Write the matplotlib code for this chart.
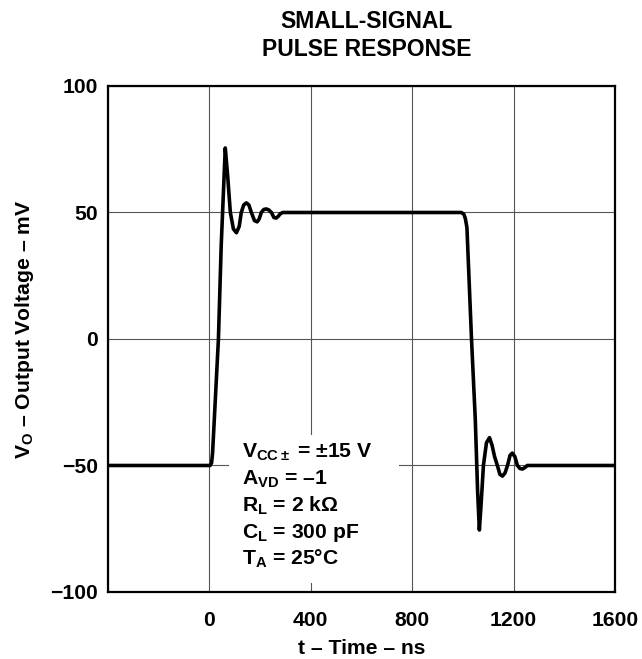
import matplotlib
matplotlib.use("Agg")
import matplotlib.pyplot as plt
from matplotlib.patches import Rectangle

plt.rcParams['font.family'] = ['Liberation Sans', 'DejaVu Sans']
plt.rcParams['font.weight'] = 'bold'
plt.rcParams['mathtext.fontset'] = 'custom'
plt.rcParams['mathtext.rm'] = 'Liberation Sans:bold'
plt.rcParams['mathtext.bf'] = 'Liberation Sans:bold'
plt.rcParams['mathtext.it'] = 'Liberation Sans:bold'

# waveform (t in ns, Vo in mV)
t_ns = [-400, 3, 9, 13, 36, 47, 63, 72, 83, 95, 107, 118, 126, 136, 146, 156, 166, 178,
        189, 197, 205, 215, 225, 235, 245, 255, 264, 272, 280, 290,
        994, 1004, 1010, 1016, 1034, 1049, 1058, 1065, 1072, 1081, 1093, 1105, 1115,
        1125, 1136, 1146, 1156, 1166, 1176, 1186, 1195, 1205, 1215, 1225, 1235, 1245,
        1254, 1600]
vo_mv = [-50, -50, -49, -45, 0, 37, 75.5, 65, 50, 43.5, 42, 44.5, 50, 53, 53.8, 53, 50, 46.8,
         46.3, 47.5, 50, 51.2, 51.4, 51, 50, 48, 47.8, 48.5, 49.5, 50,
         50, 49.3, 47.5, 44, 0, -32, -60, -75.5, -65, -50, -41, -39, -42,
         -46.5, -50, -53.5, -54.2, -53, -50, -46, -45.1, -46.5, -50, -51.2, -51.4, -50.8,
         -50, -50]

x_ticks = [-400, 0, 400, 800, 1200, 1600]
x_labels = ['', '0', '400', '800', '1200', '1600']
y_ticks = [-100, -50, 0, 50, 100]
y_labels = ['\u2212100', '\u221250', '0', '50', '100']

conditions = ['$\\mathbf{V_{CC\\pm}}$ = \u00b115 V',
              '$\\mathbf{A_{VD}}$ = \u20131',
              '$\\mathbf{R_{L}}$ = 2 k\u03a9',
              '$\\mathbf{C_{L}}$ = 300 pF',
              '$\\mathbf{T_{A}}$ = 25\u00b0C']

fs = 15.2

fig = plt.figure(figsize=(6.42, 6.59), dpi=100)
ax = fig.add_axes([0.168, 0.1017, 0.790, 0.7678])

ax.plot(t_ns, vo_mv, color='black', linewidth=2.6, solid_joinstyle='round',
        solid_capstyle='round', zorder=4)

ax.set_xlim(-400, 1600)
ax.set_ylim(-100, 100)
ax.set_xticks(x_ticks)
ax.set_xticklabels(x_labels)
ax.set_yticks(y_ticks)
ax.set_yticklabels(y_labels)
ax.tick_params(axis='x', length=0, pad=14, labelsize=fs)
ax.tick_params(axis='y', length=0, pad=7, labelsize=fs)
ax.grid(True, color='#555555', linewidth=0.8, zorder=1)
ax.set_axisbelow(True)
for s in ax.spines.values():
    s.set_linewidth(1.6)
    s.set_color('black')

# white box behind the test conditions
ax.add_patch(Rectangle((79, -96.5), 670, 58.5, facecolor='white', edgecolor='none', zorder=2))
for i, line in enumerate(conditions):
    ax.text(130, -47 - 10.6 * i, line, fontsize=fs, fontweight='bold',
            va='baseline', ha='left', zorder=5)

ax.set_xlabel('t \u2013 Time \u2013 ns', fontsize=fs, fontweight='bold', labelpad=6)
ax.set_ylabel('$\\mathbf{V_O}$ \u2013 Output Voltage \u2013 mV', fontsize=fs,
              fontweight='bold')
ax.yaxis.set_label_coords(-0.142, 0.52)

fig.text(367 / 642, 1 - 21 / 659, 'SMALL-SIGNAL', ha='center', va='center',
         fontsize=16.5, fontweight='bold')
fig.text(367 / 642, 1 - 50 / 659, 'PULSE RESPONSE', ha='center', va='center',
         fontsize=16.5, fontweight='bold')

fig.savefig('out.png', dpi=100)
